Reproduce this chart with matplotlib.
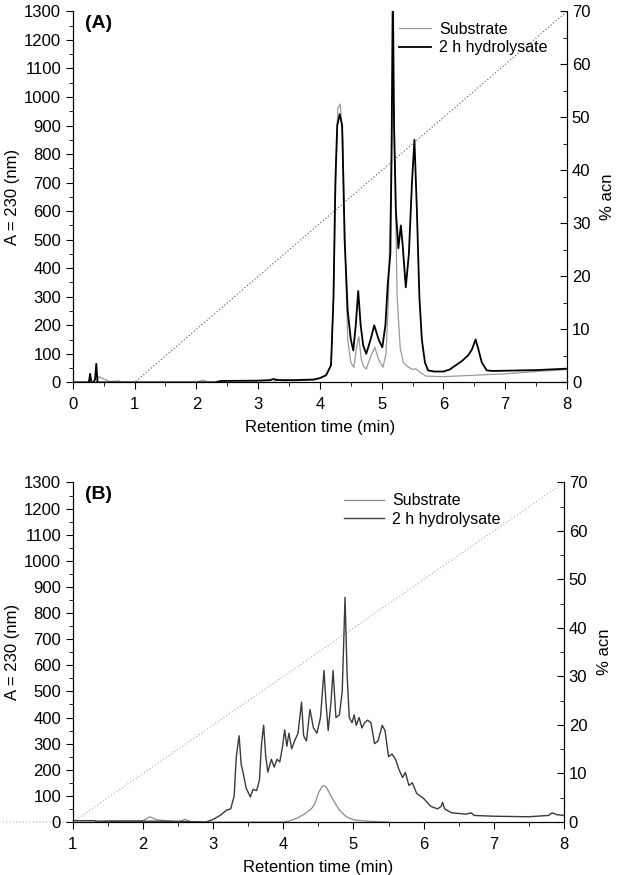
"""Two-panel HPLC chromatogram: substrate vs 2 h hydrolysate with acn gradient."""
import matplotlib
matplotlib.use("Agg")
import matplotlib.pyplot as plt
from matplotlib.ticker import MultipleLocator

plt.rcParams['font.family'] = ['Liberation Sans', 'DejaVu Sans']

# ---- panel A data (retention time in min, A230) ----
a_hyd_t = [0.0, 0.26, 0.28, 0.30, 0.33, 0.36, 0.38, 0.40, 0.45, 2.3, 2.4, 3.0, 3.2, 3.25, 3.3,
           3.6, 3.9, 4.0, 4.1, 4.18, 4.22, 4.25, 4.28, 4.32, 4.36, 4.4, 4.45, 4.5, 4.54, 4.58,
           4.62, 4.66, 4.7, 4.75, 4.82, 4.88, 4.95, 5.01, 5.06, 5.1, 5.14, 5.16, 5.18, 5.2,
           5.23, 5.27, 5.31, 5.34, 5.39, 5.44, 5.49, 5.53, 5.57, 5.61, 5.65, 5.7, 5.75, 5.85,
           6.0, 6.1, 6.2, 6.3, 6.4, 6.46, 6.52, 6.56, 6.62, 6.7, 6.8, 7.5, 8.0]
a_hyd_v = [0, 0, 30, 0, 0, 10, 65, 0, 0, 0, 5, 6, 8, 12, 8,
           8, 10, 15, 25, 60, 300, 700, 900, 940, 900, 500, 250, 150, 112, 200,
           320, 200, 130, 100, 150, 200, 150, 123, 200, 350, 450, 800, 1400, 900,
           600, 470, 550, 480, 333, 450, 700, 850, 600, 300, 150, 70, 42, 38,
           38, 45, 60, 75, 95, 115, 150, 120, 70, 42, 40, 43, 48]
a_sub_t = [0.0, 0.38, 0.42, 0.5, 0.6, 0.75, 0.8, 2.0, 2.1, 2.2, 3.25, 3.3, 3.4, 3.9, 4.0,
           4.1, 4.18, 4.22, 4.26, 4.29, 4.33, 4.37, 4.41, 4.45, 4.5, 4.55, 4.59, 4.63, 4.67,
           4.71, 4.75, 4.82, 4.89, 4.95, 5.02, 5.07, 5.11, 5.15, 5.18, 5.21, 5.25, 5.3,
           5.35, 5.42, 5.5, 5.55, 5.62, 5.72, 6.0, 6.5, 7.0, 7.5, 8.0]
a_sub_v = [0, 0, 20, 12, 3, 5, 0, 0, 8, 0, 0, 12, 5, 8, 15,
           25, 60, 300, 750, 960, 975, 850, 450, 150, 70, 52, 120, 160, 80,
           55, 47, 90, 123, 80, 53, 100, 300, 700, 1150, 800, 300, 120,
           70, 55, 45, 48, 35, 22, 20, 25, 30, 38, 45]

# ---- panel B data ----
b_hyd_t = [1.0, 1.3, 1.35, 1.6, 2.4, 2.9, 3.0, 3.1, 3.19, 3.25, 3.3, 3.33, 3.37, 3.4, 3.43,
           3.47, 3.53, 3.57, 3.62, 3.66, 3.69, 3.72, 3.75, 3.78, 3.83, 3.87, 3.91, 3.95, 3.99,
           4.02, 4.05, 4.08, 4.12, 4.16, 4.21, 4.26, 4.29, 4.33, 4.38, 4.43, 4.48, 4.53,
           4.58, 4.61, 4.64, 4.68, 4.71, 4.75, 4.8, 4.84, 4.88, 4.91, 4.94, 4.98, 5.01,
           5.04, 5.08, 5.12, 5.16, 5.2, 5.25, 5.3, 5.35, 5.41, 5.45, 5.5, 5.55, 5.6, 5.65,
           5.7, 5.74, 5.79, 5.84, 5.9, 6.0, 6.1, 6.2, 6.25, 6.27, 6.3, 6.4, 6.6, 6.68, 6.72,
           7.0, 7.5, 7.78, 7.83, 7.9, 8.0]
b_hyd_v = [5, 5, 0, 3, 3, 0, 10, 25, 45, 50, 100, 250, 330, 220, 185,
           130, 96, 125, 120, 160, 300, 370, 250, 191, 240, 210, 240, 230, 290,
           353, 290, 340, 280, 310, 340, 459, 330, 310, 431, 360, 340, 400,
           580, 450, 350, 460, 580, 400, 410, 500, 860, 560, 400, 380, 410,
           370, 400, 360, 380, 390, 380, 300, 310, 370, 350, 250, 260, 240, 200,
           170, 190, 140, 150, 110, 90, 60, 50, 60, 75, 50, 35, 30, 35, 25,
           22, 20, 25, 35, 28, 25]
b_sub_t = [1.0, 2.0, 2.1, 2.2, 2.5, 2.6, 2.7, 4.0, 4.1, 4.2, 4.3, 4.4, 4.45, 4.5, 4.55,
           4.58, 4.62, 4.7, 4.8, 4.9, 5.0, 5.2, 5.5]
b_sub_v = [5, 5, 20, 8, 0, 10, 0, 0, 5, 15, 30, 50, 70, 110, 135,
           140, 130, 90, 45, 20, 8, 3, 0]

# acn gradient (%)
grad_t = [0, 1, 8]
grad_v = [0, 0, 70]


def style_axes(ax, ax2, xmin):
    ax.set_xlim(xmin, 8)
    ax.set_ylim(0, 1300)
    ax2.set_ylim(0, 70)
    ax.yaxis.set_major_locator(MultipleLocator(100))
    ax.yaxis.set_minor_locator(MultipleLocator(50))
    ax.xaxis.set_major_locator(MultipleLocator(1))
    ax.xaxis.set_minor_locator(MultipleLocator(0.5))
    ax2.yaxis.set_major_locator(MultipleLocator(10))
    ax2.yaxis.set_minor_locator(MultipleLocator(5))
    for a in (ax, ax2):
        a.spines['top'].set_visible(False)
    ax.tick_params(which='major', direction='out', length=5, labelsize=12)
    ax.tick_params(which='minor', direction='out', length=3)
    ax.tick_params(axis='x', which='major', pad=5.5)
    ax2.tick_params(which='major', direction='in', length=5, labelsize=12)
    ax2.tick_params(which='minor', direction='in', length=3)
    ax.set_xlabel('Retention time (min)', fontsize=12, labelpad=6)
    ax.set_ylabel('A = 230 (nm)', fontsize=12, labelpad=3)
    ax2.set_ylabel('% acn', fontsize=12, labelpad=7)


fig = plt.figure(figsize=(6.17, 8.75), dpi=100)

# ---- panel A ----
axA = fig.add_axes([0.118, 0.563, 0.801, 0.424])
axA2 = axA.twinx()
axA2.plot(grad_t, grad_v, color='#555555', lw=0.8, ls=(0, (1, 2)))
axA.plot(a_sub_t, a_sub_v, color='#9a9a9a', lw=0.9, label='Substrate')
axA.plot(a_hyd_t, a_hyd_v, color='black', lw=1.3, label='2 h hydrolysate')
axA.set_zorder(axA2.get_zorder() + 1)
axA.patch.set_visible(False)
style_axes(axA, axA2, 0)
axA.text(0.025, 0.99, '(A)', transform=axA.transAxes, fontsize=14,
         fontweight='bold', va='top', ha='left')
axA.legend(loc='upper right', bbox_to_anchor=(0.99, 1.01), frameon=False,
           fontsize=11.5, handlelength=2.0, handletextpad=0.5, labelspacing=0.2)

# ---- panel B ----
axB = fig.add_axes([0.118, 0.0606, 0.796, 0.388])
axB2 = axB.twinx()
axB2.plot(grad_t, grad_v, color='#aaaaaa', lw=0.8, ls=(0, (1, 2)), clip_on=False)
axB.plot(b_sub_t, b_sub_v, color='#8a8a8a', lw=0.9, label='Substrate')
axB.plot(b_hyd_t, b_hyd_v, color='#3a3a3a', lw=1.0, label='2 h hydrolysate')
axB.set_zorder(axB2.get_zorder() + 1)
axB.patch.set_visible(False)
style_axes(axB, axB2, 1)
axB.text(0.025, 0.99, '(B)', transform=axB.transAxes, fontsize=14,
         fontweight='bold', va='top', ha='left')
axB.legend(loc='upper right', bbox_to_anchor=(0.9, 1.01), frameon=False,
           fontsize=11.5, handlelength=2.5, handletextpad=0.5, labelspacing=0.2)

fig.savefig('out.png', dpi=100)
plt.close(fig)
